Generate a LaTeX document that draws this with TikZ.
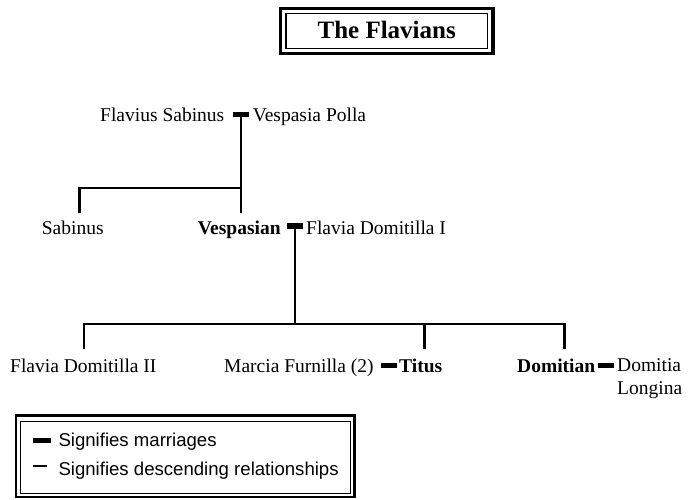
\documentclass[tikz,border=0pt]{standalone}
\usepackage{fontspec}
\setmainfont{Liberation Serif}
\setsansfont{Liberation Sans}
\begin{document}
\begin{tikzpicture}[x=1pt,y=-1pt,
  person/.style={font=\fontsize{19.5}{23}\selectfont, inner sep=0pt, anchor=base west},
  mbar/.style={fill=black, inner sep=0pt, minimum width=16pt, minimum height=5.5pt},
  tree/.style={line width=2.3pt},
  leg/.style={font=\sffamily\fontsize{18.6}{22}\selectfont, inner sep=0pt, anchor=base west}]
\useasboundingbox (0,0) rectangle (694,499);

% title
\draw[line width=3.5pt] (280.5,8.5) rectangle (492.9,53.5);
\draw[line width=1.5pt] (286,13.5) rectangle (487.4,48.5);
\node[font=\bfseries\fontsize{25}{30}\selectfont, inner sep=0pt, anchor=base] (title) at (386.7,38.3) {The Flavians};

% row 1
\node[person] (fsab) at (100,121.5) {Flavius Sabinus};
\node[mbar] (m1) at (241,114.5) {};
\node[person] (vpol) at (252.7,121.5) {Vespasia Polla};

% row 2
\node[person] (sab) at (41.7,234.5) {Sabinus};
\node[person] (vesp) at (197.7,234.5) {\bfseries Vespasian};
\node[mbar] (m2) at (295,226) {};
\node[person] (fd1) at (306,234.5) {Flavia Domitilla I};

% row 3
\node[person] (fd2) at (10,372) {Flavia Domitilla II};
\node[person] (marcia) at (224,372) {Marcia Furnilla (2)};
\node[mbar] (m3) at (389,365.5) {};
\node[person] (titus) at (399,372) {\bfseries Titus};
\node[person] (domi) at (517,372) {\bfseries Domitian};
\node[mbar] (m4) at (606,365.5) {};
\node[person, align=left, anchor=north west] (dlon) at (617,358.5) {Domitia\\Longina};

% tree connectors
\coordinate (j1) at (241,188);
\coordinate (sabt) at (79.5,213);
\coordinate (vespt) at (241,213);
\draw[tree] (m1.south) -- (vespt);
\draw[tree] (sabt) |- (j1);

\coordinate (j2) at (295,324);
\coordinate (fd2t) at (84,349);
\coordinate (titt) at (424.5,349);
\coordinate (domt) at (564.5,349);
\draw[tree] (m2.south) -- (j2);
\draw[tree] (fd2t) |- (domt |- j2) -- (domt);
\draw[tree] (titt) -- (titt |- j2);

% legend
\draw[line width=2.8pt] (16,415.5) rectangle (354.3,497);
\draw[line width=1pt] (20.7,421.5) rectangle (350.5,493.5);
\node[mbar, minimum width=18pt, minimum height=5pt] (lbar) at (42,440.2) {};
\coordinate (lla) at (33,466);
\coordinate (llb) at (47,466);
\draw[line width=2pt] (lla) -- (llb);
\node[leg] (lt1) at (58.3,446.7) {Signifies marriages};
\node[leg] (lt2) at (58.3,475) {Signifies descending relationships};
\end{tikzpicture}
\end{document}
